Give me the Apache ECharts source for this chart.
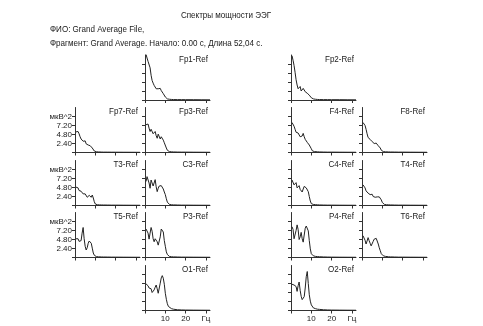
<!DOCTYPE html>
<html>
<head>
<meta charset="utf-8">
<script src="https://cdn.jsdelivr.net/npm/echarts@6/dist/echarts.min.js"></script>
<style>
  html, body { margin: 0; padding: 0; background: #ffffff; }
  #chart { width: 483px; height: 326px; }
</style>
</head>
<body>
<div id="chart"></div>
<script>
// Frequency bins of the averaged spectra, Hz
const freqHz = [0.5, 1, 1.5, 2, 2.5, 3, 3.5, 4, 4.5, 5, 5.5, 6, 6.5, 7, 7.5, 8,
                8.5, 9, 9.5, 10, 10.5, 11, 11.5, 12, 13, 14, 16, 18, 20, 24, 28, 32];

// Spectral power per lead, µV^2
const fp1 = [12.2, 11.2, 10.3, 9.8, 8.6, 6.6, 5.2, 4.5, 3.9, 3.4, 3.0, 2.8, 3.0, 3.3, 3.1, 2.5,
             2.1, 1.7, 1.3, 0.8, 0.5, 0.3, 0.25, 0.2, 0.15, 0.12, 0.1, 0.1, 0.08, 0.08, 0.06, 0.05];
const fp2 = [11.8, 10.6, 9.2, 7.4, 5.4, 4.0, 3.0, 2.9, 3.6, 2.4, 2.5, 3.1, 2.7, 2.2, 2.0, 1.8,
             1.6, 1.3, 1.0, 0.6, 0.4, 0.3, 0.25, 0.2, 0.15, 0.12, 0.1, 0.1, 0.08, 0.08, 0.06, 0.05];
const fp7 = [5.5, 5.7, 5.6, 5.0, 4.2, 3.6, 4.0, 3.0, 2.8, 3.1, 2.3, 1.8, 2.0, 2.1, 1.8, 1.6,
             1.2, 0.7, 0.4, 0.3, 0.2, 0.18, 0.15, 0.14, 0.12, 0.1, 0.1, 0.08, 0.08, 0.07, 0.06, 0.05];
const fp3 = [7.4, 6.9, 7.6, 6.5, 5.6, 6.2, 6.3, 5.0, 4.9, 5.6, 4.5, 3.8, 4.9, 5.0, 3.6, 4.2,
             4.6, 3.3, 2.6, 2.1, 1.2, 0.6, 0.35, 0.25, 0.18, 0.15, 0.12, 0.1, 0.1, 0.08, 0.07, 0.06];
const f4  = [8.0, 7.6, 7.0, 6.2, 5.4, 4.9, 5.2, 5.0, 4.2, 4.0, 4.4, 5.1, 4.2, 3.5, 3.1, 2.7,
             2.4, 2.0, 1.6, 1.0, 0.45, 0.3, 0.25, 0.2, 0.18, 0.15, 0.12, 0.1, 0.1, 0.08, 0.07, 0.06];
const f8  = [8.0, 7.8, 7.2, 6.2, 5.0, 4.0, 3.7, 3.5, 3.2, 2.9, 2.7, 2.4, 2.2, 2.5, 2.3, 1.8,
             1.5, 1.2, 0.6, 0.35, 0.25, 0.2, 0.18, 0.16, 0.15, 0.13, 0.12, 0.1, 0.1, 0.08, 0.07, 0.06];
const t3  = [4.9, 5.2, 4.7, 4.0, 3.6, 3.8, 4.0, 3.1, 2.7, 3.1, 2.6, 2.2, 2.6, 2.7, 2.3, 2.2,
             2.8, 2.0, 1.0, 0.4, 0.25, 0.2, 0.18, 0.16, 0.15, 0.13, 0.12, 0.1, 0.1, 0.08, 0.07, 0.06];
const c3  = [6.4, 7.7, 7.4, 6.0, 4.6, 6.8, 7.1, 5.2, 5.0, 6.9, 5.0, 3.7, 4.6, 5.2, 5.5, 5.3,
             5.0, 4.4, 3.6, 2.9, 1.8, 0.9, 0.45, 0.3, 0.2, 0.16, 0.13, 0.1, 0.1, 0.08, 0.07, 0.06];
const c4  = [6.8, 6.4, 5.5, 5.6, 6.1, 4.7, 4.9, 5.3, 4.3, 3.8, 3.6, 4.4, 5.1, 5.0, 4.7, 4.4,
             3.7, 2.4, 1.2, 0.5, 0.35, 0.28, 0.25, 0.22, 0.18, 0.15, 0.12, 0.1, 0.1, 0.08, 0.07, 0.06];
const t4  = [5.5, 5.3, 4.7, 3.9, 3.5, 3.3, 3.0, 2.9, 3.2, 3.0, 2.4, 2.3, 2.2, 2.4, 2.3, 2.2,
             2.3, 2.3, 1.5, 0.8, 0.4, 0.3, 0.25, 0.2, 0.18, 0.15, 0.12, 0.1, 0.1, 0.08, 0.07, 0.06];
const t5  = [5.0, 4.6, 5.0, 4.3, 3.8, 4.5, 6.5, 8.0, 5.0, 3.0, 2.0, 2.6, 3.8, 4.4, 4.5, 3.8,
             2.5, 1.2, 0.6, 0.35, 0.25, 0.2, 0.18, 0.16, 0.15, 0.13, 0.12, 0.1, 0.1, 0.08, 0.07, 0.06];
const p3  = [7.6, 8.0, 6.5, 4.9, 6.5, 8.0, 7.0, 5.0, 4.2, 5.0, 5.5, 4.2, 3.3, 3.6, 5.5, 7.6,
             8.0, 6.8, 4.5, 3.0, 1.5, 0.8, 0.45, 0.3, 0.2, 0.16, 0.13, 0.1, 0.1, 0.08, 0.07, 0.06];
const p4  = [8.2, 7.5, 5.0, 5.2, 7.2, 8.7, 7.5, 4.8, 5.5, 6.7, 5.0, 4.1, 6.0, 7.8, 8.4, 8.2,
             7.1, 4.5, 2.3, 1.0, 0.6, 0.45, 0.35, 0.3, 0.25, 0.2, 0.15, 0.12, 0.1, 0.08, 0.07, 0.06];
const t6  = [5.8, 5.5, 4.6, 3.6, 4.4, 5.3, 4.5, 3.8, 3.1, 3.5, 4.3, 4.9, 5.3, 5.1, 4.6, 3.6,
             2.6, 1.8, 1.0, 0.6, 0.45, 0.35, 0.3, 0.25, 0.2, 0.16, 0.13, 0.1, 0.1, 0.08, 0.07, 0.06];
const o1  = [7.1, 7.2, 6.6, 6.0, 5.5, 5.8, 4.8, 4.8, 5.5, 6.2, 6.8, 5.8, 4.6, 5.0, 7.3, 8.7,
             9.3, 8.6, 7.0, 4.6, 3.0, 1.8, 1.1, 0.8, 0.5, 0.35, 0.2, 0.15, 0.12, 0.1, 0.08, 0.07];
const o2  = [7.0, 6.8, 6.8, 7.2, 6.4, 5.1, 6.6, 7.6, 5.4, 3.8, 2.9, 3.3, 3.7, 6.0, 9.0, 10.4,
             7.2, 4.2, 2.5, 1.5, 1.0, 0.7, 0.6, 0.5, 0.35, 0.3, 0.2, 0.15, 0.12, 0.1, 0.08, 0.07];

// Axis ticks
const powerTicks = [2.4, 4.8, 7.2, 9.6];
const freqTicks = [10, 20, 30];
const powerUnit = 'мкВ^2';
const freqUnit = 'Гц';

// Heading text
const titleText = 'Спектры мощности ЭЭГ';
const subjectText = 'ФИО: Grand Average File,';
const fragmentText = 'Фрагмент: Grand Average. Начало: 0.00 с, Длина 52,04 с.';

// Montage layout: [label, values, column, row]
const panels = [
  ['Fp1-Ref', fp1, 1, 0], ['Fp2-Ref', fp2, 2, 0],
  ['Fp7-Ref', fp7, 0, 1], ['Fp3-Ref', fp3, 1, 1], ['F4-Ref', f4, 2, 1], ['F8-Ref', f8, 3, 1],
  ['T3-Ref', t3, 0, 2], ['C3-Ref', c3, 1, 2], ['C4-Ref', c4, 2, 2], ['T4-Ref', t4, 3, 2],
  ['T5-Ref', t5, 0, 3], ['P3-Ref', p3, 1, 3], ['P4-Ref', p4, 2, 3], ['T6-Ref', t6, 3, 3],
  ['O1-Ref', o1, 1, 4], ['O2-Ref', o2, 2, 4]
];

const colLeft = [75, 145, 291, 362];
const rowBottom = [100, 152.5, 205.5, 257.5, 310.5];
const panelW = 65, panelH = 45;
const font = '"Liberation Sans", Arial, sans-serif';
const textFont = '9.8px ' + font;
const narrow = 0.82;          // horizontal squeeze for a narrow face
const ink = '#1a1a1a';
const axisStyle = { color: '#333', width: 1 };

const grid = [], xAxis = [], yAxis = [], series = [], graphic = [];

function narrowText(text, x, y, align) {
  return {
    type: 'text', x: x, y: y, scaleX: narrow,
    style: { text: text, align: align, verticalAlign: 'middle', font: textFont, fill: ink }
  };
}

panels.forEach(([label, values, col, row], i) => {
  const left = colLeft[col];
  const bottom = rowBottom[row];
  grid.push({ left: left, top: bottom - panelH, width: panelW, height: panelH });
  xAxis.push({
    gridIndex: i, type: 'value', min: 0, max: 32,
    axisLine: { lineStyle: axisStyle },
    axisTick: { length: 3, customValues: [0].concat(freqTicks), lineStyle: axisStyle },
    axisLabel: {
      show: row === 4, customValues: freqTicks, margin: 4,
      fontFamily: font, fontSize: 8, color: ink,
      formatter: v => (v === 30 ? freqUnit : String(v))
    },
    splitLine: { show: false }
  });
  yAxis.push({
    gridIndex: i, type: 'value', min: 0, max: 12,
    axisLine: { lineStyle: axisStyle },
    axisTick: { length: 3, customValues: [0].concat(powerTicks), lineStyle: axisStyle },
    axisLabel: {
      show: col === 0, customValues: powerTicks, margin: 3,
      fontFamily: font, fontSize: 8, color: ink,
      formatter: v => (v > 9 ? powerUnit : v.toFixed(2))
    },
    splitLine: { show: false }
  });
  series.push({
    type: 'line', xAxisIndex: i, yAxisIndex: i,
    data: freqHz.map((f, k) => [f, values[k]]),
    showSymbol: false, smooth: false,
    lineStyle: { color: '#222', width: 1 }
  });
  graphic.push(narrowText(label, left + panelW - 2, bottom - 41, 'right'));
});

graphic.push(
  narrowText(titleText, 226, 15, 'center'),
  narrowText(subjectText, 50, 29, 'left'),
  narrowText(fragmentText, 50, 43, 'left')
);

const chart = echarts.init(document.getElementById('chart'), null, { renderer: 'canvas' });
chart.setOption({
  animation: false,
  backgroundColor: '#ffffff',
  grid, xAxis, yAxis, series, graphic
});
</script>
</body>
</html>
